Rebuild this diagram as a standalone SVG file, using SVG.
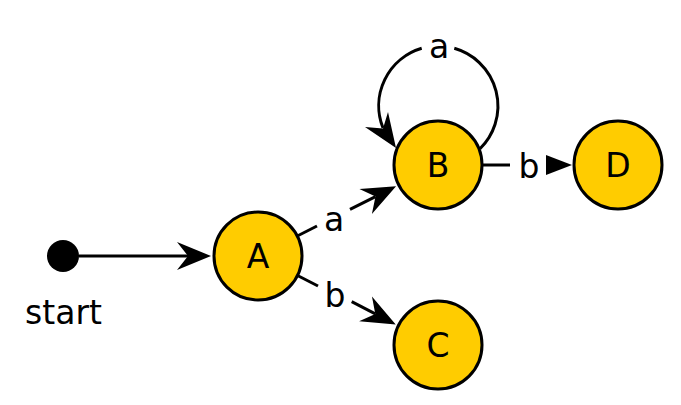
<svg xmlns="http://www.w3.org/2000/svg" width="681" height="405" viewBox="0 0 681 405">
<style>
.node{fill:#FFCC00;stroke:#000;stroke-width:3}
.edge{fill:none;stroke:#000;stroke-width:3}
.lbl{font-family:"DejaVu Sans",Verdana,sans-serif;font-size:33px;fill:#000;text-anchor:middle}
</style>
<defs>
<marker id="arr" markerUnits="userSpaceOnUse" markerWidth="40" markerHeight="30" refX="11" refY="14" orient="auto" overflow="visible">
<path d="M0,0 L34,14 L0,28 L11,14 Z" fill="#000"/>
</marker>
</defs>
<rect width="681" height="405" fill="#fff"/>
<g id="edges">
<path class="edge" d="M79,256 L188,256" marker-end="url(#arr)"/>
<path class="edge" d="M297.3,236 L317,226"/>
<path class="edge" d="M350,209.3 L375.5,196.6" marker-end="url(#arr)"/>
<path class="edge" d="M297.5,275.5 L318,286"/>
<path class="edge" d="M351.7,301.7 L375.3,313.9" marker-end="url(#arr)"/>
<path class="edge" d="M483,165 L510,165"/>
<polygon points="546,155 572,165 546,175" fill="#000"/>
<path class="edge" d="M480,148.8 A60,60 0 0 0 454.3,48.3"/>
<path class="edge" d="M421.7,48.3 A60,60 0 0 0 383,128"/>
<polygon points="396,148 365,127 383,128.5 388,112" fill="#000"/>
<text class="lbl" x="439" y="58">a</text>
<text class="lbl" x="334" y="231">a</text>
<text class="lbl" x="335" y="307">b</text>
<text class="lbl" x="529" y="178">b</text>
</g>
<g id="start">
<circle cx="63" cy="256" r="16" fill="#000"/>
<text class="lbl" x="63.5" y="324">start</text>
</g>
<g id="A"><circle class="node" cx="258" cy="256" r="44"/><text class="lbl" x="258" y="268">A</text></g>
<g id="B"><circle class="node" cx="438" cy="165" r="44"/><text class="lbl" x="438" y="177">B</text></g>
<g id="C"><circle class="node" cx="438" cy="345" r="44"/><text class="lbl" x="438" y="357">C</text></g>
<g id="D"><circle class="node" cx="618" cy="165" r="44"/><text class="lbl" x="618" y="177">D</text></g>
</svg>
